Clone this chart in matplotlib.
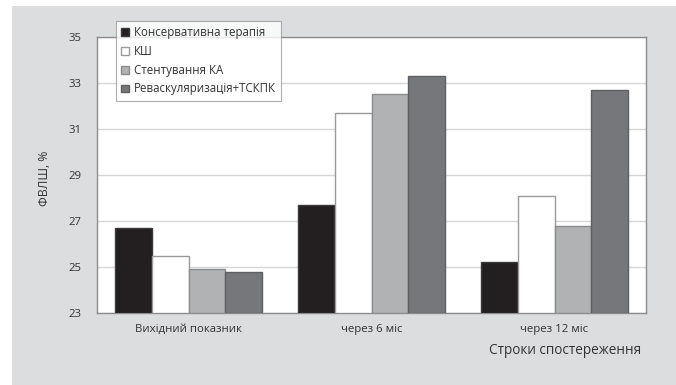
import matplotlib
matplotlib.use("Agg")
import matplotlib.pyplot as plt
import numpy as np
from matplotlib.patches import Rectangle

# LVEF by treatment group at each follow-up point
periods = ["Вихідний показник", "через 6 міс", "через 12 міс"]
series_names = ["Консервативна терапія", "КШ", "Стентування КА", "Реваскуляризація+ТСКПК"]
conservative = [26.7, 27.7, 25.2]
cabg = [25.5, 31.7, 28.1]
stenting = [24.9, 32.5, 26.8]
revasc_cells = [24.8, 33.3, 32.7]
y_ticks = [23, 25, 27, 29, 31, 33, 35]

fills = ["#231f20", "#ffffff", "#b1b2b4", "#76777a"]
edges = ["#3a3a3a", "#9a9a9a", "#8a8b8d", "#5e5f61"]
text_color = "#333333"

plt.rcParams["font.family"] = ["Open Sans", "DejaVu Sans"]

fig = plt.figure(figsize=(6.76, 3.85), dpi=100)
fig.patch.set_facecolor("white")
fig.add_artist(Rectangle((12 / 676, 0), 1, 379 / 385, transform=fig.transFigure,
                         facecolor="#dcdddf", edgecolor="none", zorder=0))

ax = fig.add_axes([97 / 676, 72 / 385, 549 / 676, 276 / 385])
ax.set_facecolor("white")

x = np.arange(len(periods))
width = 0.2
all_series = [conservative, cabg, stenting, revasc_cells]
handles = []
for i, vals in enumerate(all_series):
    bars = ax.bar(x + (i - 1.5) * width, np.array(vals) - 23, width, bottom=23,
                  color=fills[i], edgecolor=edges[i], linewidth=1.0,
                  label=series_names[i], zorder=3)
    handles.append(bars)

ax.set_xlim(-0.5, 2.5)
ax.set_ylim(23, 35)
ax.set_yticks(y_ticks)
ax.set_xticks(x)
ax.set_xticklabels(periods)
ax.yaxis.grid(True, color="#d6d6d6", linewidth=1.0, zorder=0)
ax.set_axisbelow(True)
ax.tick_params(axis="both", length=0, colors=text_color, labelsize=8.2)
ax.tick_params(axis="y", pad=11)
ax.tick_params(axis="x", pad=8)
for spine in ax.spines.values():
    spine.set_color("#8c8c8c")
    spine.set_linewidth(1.0)

fig.text(44 / 676, 1 - 178 / 385, "ФВЛШ, %", rotation=90, ha="center", va="center",
         fontsize=8.8, color=text_color)
fig.text(565 / 676, 1 - 351 / 385, "Строки спостереження", ha="center", va="center",
         fontsize=9.8, color=text_color)

leg = fig.legend(handles=handles, loc="upper left",
                 bbox_to_anchor=(116 / 676, 1 - 21 / 385),
                 fontsize=8.3, frameon=True, fancybox=False,
                 handlelength=0.65, handleheight=0.65, handletextpad=0.45,
                 labelspacing=0.5, borderpad=0.45, borderaxespad=0)
leg.get_frame().set_edgecolor("#9a9a9a")
leg.get_frame().set_linewidth(0.8)
for t in leg.get_texts():
    t.set_color(text_color)

fig.savefig("out.png", dpi=100)
plt.close(fig)
